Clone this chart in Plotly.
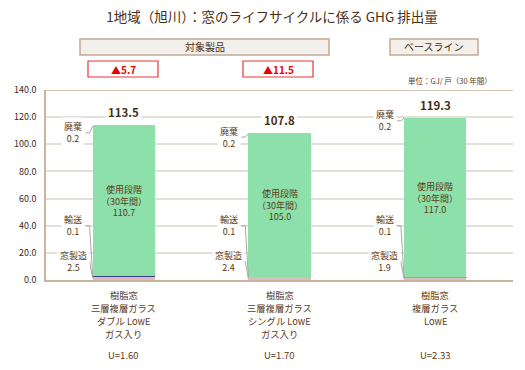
import plotly.graph_objects as go

# ---- data ----
categories = [["樹脂窓", "三層複層ガラス", "ダブル LowE", "ガス入り"],
              ["樹脂窓", "三層複層ガラス", "シングル LowE", "ガス入り"],
              ["樹脂窓", "複層ガラス", "LowE"]]
u_values = ["U=1.60", "U=1.70", "U=2.33"]
manufacture = [2.5, 2.4, 1.9]      # 窓製造
transport = [0.1, 0.1, 0.1]        # 輸送
use_phase = [110.7, 105.0, 117.0]  # 使用段階（30年間）
disposal = [0.2, 0.2, 0.2]         # 廃棄
totals = [113.5, 107.8, 119.3]
reductions = ["▲5.7", "▲11.5"]
y_ticks = [0, 20, 40, 60, 80, 100, 120, 140]

FONT = "Noto Sans CJK JP"
BROWN = "#5c3a17"
BEIGE = "#c9b49c"
GRID = "#e4dfd8"

W, H = 525, 370
L, R, T, B = 46, 12, 90, 90
PW, PH = W - L - R, H - T - B

def px(xp):
    return (xp - L) / PW

def py(yp):
    return (H - B - yp) / PH

x = [0, 1, 2]
bw = 0.4
fig = go.Figure()
fig.add_bar(x=x, y=manufacture, width=bw, name="窓製造",
            marker=dict(color="#dcbcc0", line=dict(width=0)))
fig.add_bar(x=x, y=transport, width=bw, name="輸送",
            marker=dict(color=["#3c3c8c", "#3c3c8c", "#80b0b4"],
                        line=dict(width=1, color=["#3c3c8c", "#3c3c8c", "#80b0b4"])))
fig.add_bar(x=x, y=use_phase, width=bw, name="使用段階",
            marker=dict(color="#8de0aa", line=dict(width=0)))
fig.add_bar(x=x, y=disposal, width=bw, name="廃棄",
            marker=dict(color="#8de0aa", line=dict(width=0)))

ann = []
shapes = []
lab_font = dict(family=FONT, size=9, color=BROWN)
C = dict(xanchor="center", yanchor="middle", showarrow=False)
w_off = [5.0, 2.5, 2.0]
for i in x:
    base_use = manufacture[i] + transport[i]
    # total label
    ann.append(dict(x=i, y=totals[i] + 10, xref="x", yref="y", **C,
                    text="<b>%.1f</b>" % totals[i], bgcolor="white",
                    font=dict(family=FONT, size=11.5, color="#4a2e12"), borderpad=2))
    # in-bar text
    ann.append(dict(x=i, y=base_use + use_phase[i] / 2, xref="x", yref="y", **C,
                    text="使用段階<br>（30年間）<br>%.1f" % use_phase[i], font=lab_font))
    lx = i - 0.325
    yw = totals[i] - w_off[i]
    yt = 40.0
    ym = 13.5
    ann.append(dict(x=lx, y=yw, xref="x", yref="y", **C, bgcolor="white",
                    text="廃棄<br>%.1f" % disposal[i], font=lab_font, borderpad=2))
    ann.append(dict(x=lx, y=yt, xref="x", yref="y", **C, bgcolor="white",
                    text="輸送<br>%.1f" % transport[i], font=lab_font, borderpad=2))
    ann.append(dict(x=lx, y=ym, xref="x", yref="y", **C, bgcolor="white",
                    text="窓製造<br>%.1f" % manufacture[i], font=lab_font, borderpad=2))
    lc = dict(color="#a8a8a8", width=1)
    e = i - bw / 2
    shapes.append(dict(type="path", xref="x", yref="y", line=lc,
                       path=f"M {e-0.045} {yw} L {e-0.02} {yw} L {e} {totals[i]}"))
    shapes.append(dict(type="path", xref="x", yref="y", line=lc,
                       path=f"M {e-0.045} {yt} L {e-0.02} {yt} L {e} {manufacture[i] + transport[i]}"))
    shapes.append(dict(type="path", xref="x", yref="y", line=lc,
                       path=f"M {e-0.045} {ym} L {e-0.02} {ym} L {e} {manufacture[i] / 2}"))
    # category labels (one annotation per line)
    for k, line in enumerate(categories[i]):
        ann.append(dict(x=i, y=py(295 + 13 * k), xref="x", yref="paper", **C, text=line,
                        font=dict(family=FONT, size=9.3, color=BROWN)))
    ann.append(dict(x=i, y=py(355), xref="x", yref="paper", **C,
                    text=u_values[i], font=dict(family=FONT, size=9.5, color=BROWN)))

# header boxes
shapes.append(dict(type="rect", xref="paper", yref="paper", x0=px(80), x1=px(329),
                   y0=py(55), y1=py(39), fillcolor="#f3efea", line=dict(color="#c2a994", width=1.5)))
ann.append(dict(x=px(204.5), y=py(47), xref="paper", yref="paper", **C,
                text="対象製品", font=dict(family=FONT, size=10, color="#4a2e12")))
shapes.append(dict(type="rect", xref="paper", yref="paper", x0=px(390), x1=px(478),
                   y0=py(55), y1=py(39), fillcolor="#f3efea", line=dict(color="#c2a994", width=1.5)))
ann.append(dict(x=px(434), y=py(47), xref="paper", yref="paper", **C,
                text="ベースライン", font=dict(family=FONT, size=10, color="#4a2e12")))
for (x0, x1), t in zip([(88, 158), (243, 313)], reductions):
    shapes.append(dict(type="rect", xref="paper", yref="paper", x0=px(x0), x1=px(x1),
                       y0=py(77), y1=py(61), fillcolor="white", line=dict(color="#ee3333", width=1.2)))
    ann.append(dict(x=px((x0 + x1) / 2), y=py(69), xref="paper", yref="paper", **C,
                    text="<b>%s</b>" % t, font=dict(family=FONT, size=10, color="#e60000")))
ann.append(dict(x=px(450), y=py(80), xref="paper", yref="paper", **C,
                text="単位：GJ/ 戸（30 年間）", font=dict(family=FONT, size=7.5, color=BROWN)))
shapes.append(dict(type="line", xref="paper", yref="y", x0=0, x1=1, y0=140, y1=140,
                   line=dict(color=BEIGE, width=1.5)))

fig.update_layout(
    barmode="stack", width=W, height=H, showlegend=False,
    margin=dict(l=L, r=R, t=T, b=B),
    plot_bgcolor="white", paper_bgcolor="white",
    title=dict(text="1地域（旭川）：窓のライフサイクルに係る GHG 排出量", x=272 / W, xanchor="center",
               y=1 - 17 / H, yanchor="middle", font=dict(family=FONT, size=13.5, color="#4a2e12")),
    annotations=ann, shapes=shapes,
    font=dict(family=FONT),
)
fig.update_xaxes(range=[-0.5, 2.5], showticklabels=False, showgrid=False, zeroline=False,
                 showline=True, linecolor=BEIGE, linewidth=1.5, ticks="")
fig.update_yaxes(range=[0, 140], tickvals=y_ticks, tickformat=".1f", showgrid=True, gridcolor=GRID,
                 gridwidth=1.5, zeroline=False, showline=True, linecolor=BEIGE, linewidth=1.5,
                 tickfont=dict(family=FONT, size=9, color="#3a2a1a"), ticks="", ticklabelstandoff=6)
fig.write_html("out.html", config={"displayModeBar": False},
               post_script="document.body.style.margin='0';")
